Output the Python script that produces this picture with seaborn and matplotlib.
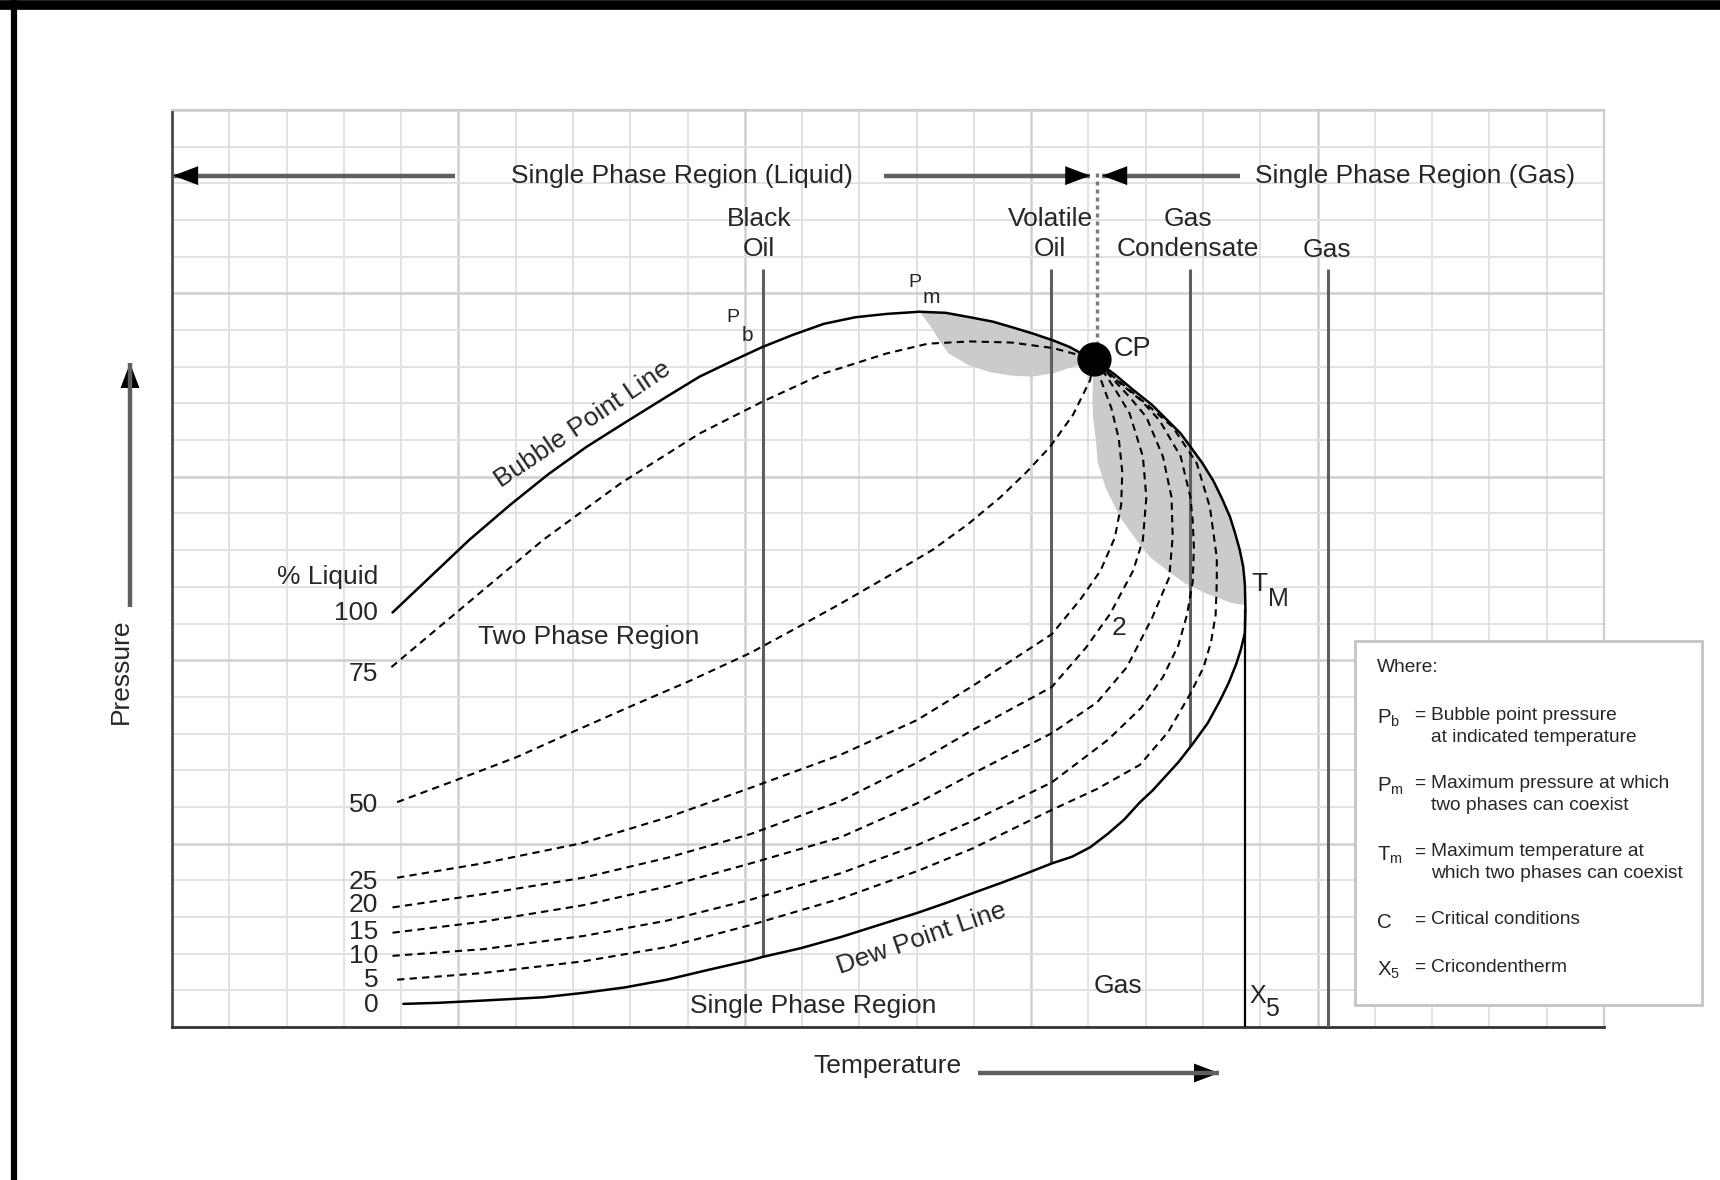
import numpy as np
import pandas as pd
import matplotlib
matplotlib.use('Agg')
import matplotlib.pyplot as plt
import seaborn as sns
from matplotlib.lines import Line2D
from matplotlib.patches import Rectangle

# ------------------ data (0-25 on both axes) ------------------ #
# phase envelope: bubble point line up to the critical point, then round to the dew point line
bubble_T = [3.85, 4.52, 5.19, 5.90, 6.57, 7.24, 7.91, 8.58, 9.21, 9.77, 10.31, 10.84, 11.38, 11.93,
            12.47, 13.05, 13.51, 13.93, 14.33, 14.66, 15.04, 15.38, 15.67, 15.88, 16.09]
bubble_P = [11.30, 12.29, 13.28, 14.23, 15.07, 15.82, 16.48, 17.13, 17.73, 18.15, 18.54, 18.87, 19.17, 19.35,
            19.44, 19.50, 19.47, 19.35, 19.23, 19.08, 18.90, 18.72, 18.54, 18.36, 18.21]
dew_T = [16.46, 16.78, 17.11, 17.38, 17.61, 17.78, 17.99, 18.18, 18.33, 18.47, 18.56, 18.64, 18.70, 18.73,
         18.74, 18.73, 18.66, 18.58, 18.45, 18.30, 18.08, 17.82, 17.57, 17.33, 17.12, 16.90, 16.62, 16.34,
         16.03, 15.71, 15.36, 14.92, 14.46, 13.98, 13.51, 13.01, 12.34, 11.67, 10.98, 10.31, 10.10, 9.37,
         8.64, 7.91, 7.18, 6.48, 5.42, 4.66, 4.04]
dew_P = [17.79, 17.37, 16.96, 16.54, 16.18, 15.82, 15.37, 14.89, 14.41, 13.91, 13.46, 13.01, 12.56, 12.08,
         11.39, 10.74, 10.29, 9.90, 9.39, 8.91, 8.28, 7.72, 7.22, 6.81, 6.45, 6.13, 5.65, 5.27,
         4.90, 4.64, 4.46, 4.19, 3.92, 3.65, 3.38, 3.11, 2.78, 2.45, 2.15, 1.91, 1.82, 1.56,
         1.29, 1.08, 0.93, 0.81, 0.72, 0.66, 0.63]

# % liquid lines
q75_T = [3.83, 5.15, 6.48, 7.84, 9.21, 10.31, 11.38, 12.47, 13.20, 13.93, 14.66, 15.38, 15.88, 16.09]
q75_P = [9.81, 11.54, 13.28, 14.83, 16.18, 17.05, 17.82, 18.36, 18.63, 18.69, 18.66, 18.51, 18.30, 18.21]
q50_T = [3.93, 4.96, 6.02, 6.99, 7.99, 9.06, 10.10, 10.88, 11.67, 12.47, 13.28, 13.89, 14.46, 14.92,
         15.33, 15.73, 16.03, 16.09]
q50_P = [6.13, 6.73, 7.36, 8.04, 8.73, 9.45, 10.20, 10.86, 11.54, 12.26, 13.01, 13.70, 14.44, 15.13,
         15.82, 16.69, 17.64, 18.21]
q25_T = [3.93, 5.42, 7.18, 8.64, 10.10, 11.67, 13.01, 13.98, 15.36, 15.86, 16.21, 16.46, 16.57, 16.59,
         16.53, 16.40, 16.21, 16.09]
q25_P = [4.07, 4.46, 5.02, 5.71, 6.52, 7.42, 8.37, 9.30, 10.71, 11.66, 12.44, 13.34, 14.23, 15.13,
         16.03, 16.87, 17.67, 18.21]
q20_T = [3.85, 5.42, 7.18, 8.64, 10.10, 11.67, 13.01, 13.98, 15.36, 15.96, 16.38, 16.78, 16.95, 17.01,
         16.95, 16.72, 16.53, 16.32, 16.09]
q20_P = [3.26, 3.62, 4.07, 4.61, 5.26, 6.16, 7.21, 8.10, 9.27, 10.35, 11.27, 12.44, 13.28, 14.44,
         15.55, 16.72, 17.22, 17.73, 18.21]
q15_T = [3.85, 5.42, 7.18, 8.64, 10.10, 11.67, 13.01, 13.98, 15.36, 16.15, 16.67, 17.11, 17.41, 17.47,
         17.45, 17.30, 17.01, 16.72, 16.44, 16.25, 16.09]
q15_P = [2.57, 2.87, 3.32, 3.83, 4.46, 5.17, 6.10, 6.91, 8.01, 8.85, 9.81, 11.15, 12.26, 13.37,
         14.44, 15.55, 16.63, 17.17, 17.64, 17.97, 18.21]
q10_T = [3.85, 5.42, 7.18, 8.64, 10.10, 11.67, 13.01, 13.98, 15.36, 16.34, 16.92, 17.30, 17.57, 17.72,
         17.82, 17.84, 17.82, 17.78, 17.61, 17.24, 16.92, 16.55, 16.30, 16.09]
q10_P = [1.94, 2.12, 2.48, 2.90, 3.47, 4.19, 4.96, 5.62, 6.67, 7.83, 8.70, 9.54, 10.41, 11.24,
         12.14, 13.07, 13.79, 14.44, 15.55, 16.54, 17.08, 17.55, 17.91, 18.21]
q5_T = [3.93, 5.42, 7.18, 8.64, 10.10, 11.67, 13.01, 13.98, 15.36, 16.15, 16.90, 17.39, 17.78, 18.01,
        18.14, 18.22, 18.24, 18.24, 18.12, 17.89, 17.47, 17.05, 16.67, 16.34, 16.09]
q5_P = [1.29, 1.47, 1.79, 2.18, 2.78, 3.50, 4.25, 4.87, 5.92, 6.49, 7.15, 8.04, 9.09, 9.81,
        10.50, 11.24, 12.14, 12.80, 14.17, 15.37, 16.36, 16.93, 17.43, 17.85, 18.21]

# grey shaded zones (near Pm and between CP and the cricondentherm)
lens_T = [13.05, 13.51, 13.93, 14.33, 14.66, 15.04, 15.38, 15.67, 15.88, 16.09,
          15.90, 15.73, 15.40, 15.02, 14.65, 14.29, 13.90, 13.56, 13.40, 13.28, 13.15]
lens_P = [19.50, 19.47, 19.35, 19.23, 19.08, 18.90, 18.72, 18.54, 18.36, 18.21,
          18.08, 18.00, 17.83, 17.73, 17.76, 17.85, 18.05, 18.36, 18.70, 19.02, 19.30]
retro_T = [16.09, 16.46, 16.78, 17.11, 17.38, 17.61, 17.78, 17.99, 18.18, 18.33, 18.47, 18.56, 18.64,
           18.70, 18.73, 18.74, 18.50, 18.07, 17.70, 17.38, 17.08, 16.85, 16.55, 16.30, 16.16, 16.13,
           16.08, 16.07, 16.08]
retro_P = [18.21, 17.79, 17.37, 16.96, 16.54, 16.18, 15.82, 15.37, 14.89, 14.41, 13.91, 13.46, 13.01,
           12.56, 12.08, 11.50, 11.56, 11.81, 12.08, 12.44, 12.80, 13.25, 13.90, 14.70, 15.40, 16.00,
           16.60, 17.10, 17.70]

cp_T, cp_P = 16.09, 18.21
tm_T, tm_P = 18.74, 11.39

reservoirs = ['Black\nOil', 'Volatile\nOil', 'Gas\nCondensate', 'Gas']
reservoir_T = [10.31, 15.35, 17.78, 20.19]
reservoir_end = [1.91, 4.46, 7.66, 0.0]

liquid_labels = ['100', '75', '50', '25', '20', '15', '10', '5', '0']
liquid_label_P = [11.30, 9.63, 6.04, 3.95, 3.32, 2.60, 1.94, 1.29, 0.60]

legend_syms = [r'P$_\mathregular{b}$', r'P$_\mathregular{m}$', r'T$_\mathregular{m}$', 'C', r'X$_\mathregular{5}$']
legend_text = ['Bubble point pressure\nat indicated temperature',
               'Maximum pressure at which\ntwo phases can coexist',
               'Maximum temperature at\nwhich two phases can coexist',
               'Critical conditions',
               'Cricondentherm']

# ------------------ style ------------------ #
sns.set_theme(style='white')
plt.rcParams['font.family'] = ['Liberation Sans', 'DejaVu Sans']
plt.rcParams['mathtext.fontset'] = 'custom'
plt.rcParams['mathtext.rm'] = 'Liberation Sans'
plt.rcParams['mathtext.it'] = 'Liberation Sans'

W, H = 1720, 1180
fig = plt.figure(figsize=(W / 100, H / 100), dpi=100)
ax = fig.add_axes([172 / W, 1 - 1027 / H, (1604 - 172) / W, (1027 - 110) / H])
ax.set_xlim(0, 25)
ax.set_ylim(0, 25)
ax.set_xticks(np.arange(0, 26, 5))
ax.set_yticks(np.arange(0, 26, 5))
ax.set_xticks(np.arange(0, 26, 1), minor=True)
ax.set_yticks(np.arange(0, 26, 1), minor=True)
ax.grid(which='minor', color='#e2e2e2', lw=1.4)
ax.grid(which='major', color='#d0d0d0', lw=1.8)
ax.tick_params(which='both', length=0, labelbottom=False, labelleft=False)
ax.set_axisbelow(True)
for side in ['top', 'right']:
    ax.spines[side].set_color('#cdcdcd')
    ax.spines[side].set_linewidth(1.6)
ax.spines['left'].set_color('#4a4a4a')
ax.spines['left'].set_linewidth(2)
ax.spines['bottom'].set_color('#333333')
ax.spines['bottom'].set_linewidth(2)

# shaded zones
ax.fill(lens_T, lens_P, color='#cbcbcb', lw=0, zorder=2)
ax.fill(retro_T, retro_P, color='#cbcbcb', lw=0, zorder=2)

# reservoir verticals
ax.vlines(reservoir_T, reservoir_end, 20.66, colors='#5e5e5e', lw=2.2, zorder=3)
ax.vlines(tm_T, 0, tm_P, colors='black', lw=1.6, zorder=3)
ax.plot([16.15, 16.15], [18.6, 23.35], color='#7a7a7a', lw=2.4, ls=(0, (1.2, 1.2)), zorder=3)

# % liquid lines
rows = []
for name, ts, ps in [('75', q75_T, q75_P), ('50', q50_T, q50_P), ('25', q25_T, q25_P),
                     ('20', q20_T, q20_P), ('15', q15_T, q15_P), ('10', q10_T, q10_P),
                     ('5', q5_T, q5_P)]:
    rows += [(name, t, p) for t, p in zip(ts, ps)]
qual = pd.DataFrame(rows, columns=['liquid', 'T', 'P'])
sns.lineplot(data=qual, x='T', y='P', units='liquid', estimator=None, sort=False,
             color='black', lw=1.5, linestyle=(0, (3.5, 2.5)), ax=ax, zorder=3)

# envelope
env = pd.DataFrame({'T': bubble_T + dew_T, 'P': bubble_P + dew_P})
sns.lineplot(data=env, x='T', y='P', estimator=None, sort=False, color='black', lw=1.8, ax=ax, zorder=4)
sns.scatterplot(x=[cp_T], y=[cp_P], s=520, color='black', edgecolor='black', ax=ax, zorder=5)
ax.set_xlabel('')
ax.set_ylabel('')

# ------------------ arrows ------------------ #
head_style = dict(arrowstyle='-|>,head_length=0.45,head_width=0.17', mutation_scale=40,
                  lw=0, fc='black', ec='none', shrinkA=0, shrinkB=0)


def arrow(tail, head, coords='data'):
    if coords == 'data':
        ax.plot([tail[0], head[0]], [tail[1], head[1]], color='#5f5f5f', lw=3.2, zorder=3,
                solid_capstyle='butt')
    else:
        fig.add_artist(Line2D([tail[0], head[0]], [tail[1], head[1]], transform=fig.transFigure,
                              color='#5f5f5f', lw=3.2, solid_capstyle='butt'))
    ax.annotate('', xy=head, xytext=tail, xycoords=coords, textcoords=coords,
                arrowprops=head_style, annotation_clip=False, zorder=4)


arrow((4.94, 23.21), (0.02, 23.21))
arrow((12.43, 23.21), (16.03, 23.21))
arrow((18.64, 23.21), (16.24, 23.21))
arrow((130 / W, 1 - 607 / H), (130 / W, 1 - 363 / H), 'figure fraction')
arrow((978 / W, 1 - 1073 / H), (1219 / W, 1 - 1073 / H), 'figure fraction')

# ------------------ labels ------------------ #
fs = 19
ax.text(8.9, 23.21, 'Single Phase Region (Liquid)', fontsize=fs, ha='center', va='center')
ax.text(21.71, 23.21, 'Single Phase Region (Gas)', fontsize=fs, ha='center', va='center')
for name, lx in zip(reservoirs, [10.25, 15.33, 17.74, 20.17]):
    if '\n' in name:
        ax.text(lx, 21.62, name, fontsize=fs, ha='center', va='center', linespacing=1.3)
    else:
        ax.text(lx, 21.17, name, fontsize=fs, ha='center', va='center')

ax.text(3.60, 12.26, '% Liquid', fontsize=fs, ha='right', va='center')
for lab, py in zip(liquid_labels, liquid_label_P):
    ax.text(3.60, py, lab, fontsize=fs, ha='right', va='center')

ax.text(7.17, 16.42, 'Bubble Point Line', fontsize=fs, rotation=34, rotation_mode='anchor',
        ha='center', va='center')
ax.text(13.08, 2.42, 'Dew Point Line', fontsize=fs, rotation=19, rotation_mode='anchor',
        ha='center', va='center')
ax.text(7.28, 10.62, 'Two Phase Region', fontsize=fs, ha='center', va='center')
ax.text(11.19, 0.58, 'Single Phase Region', fontsize=fs, ha='center', va='center')
ax.text(16.51, 1.11, 'Gas', fontsize=fs, ha='center', va='center')
ax.text(16.53, 10.88, '2', fontsize=fs, ha='center', va='center')
ax.text(16.44, 18.48, 'CP', fontsize=19.5, ha='left', va='center')

ax.text(9.79, 19.35, 'P', fontsize=14, ha='center', va='center')
ax.text(10.04, 18.84, 'b', fontsize=15, ha='center', va='center')
ax.text(12.97, 20.30, 'P', fontsize=14, ha='center', va='center')
ax.text(13.26, 19.89, 'm', fontsize=15, ha='center', va='center')
ax.text(18.98, 12.08, 'T', fontsize=19, ha='center', va='center')
ax.text(19.31, 11.66, 'M', fontsize=18, ha='center', va='center')
ax.text(18.95, 0.85, 'X', fontsize=18, ha='center', va='center')
ax.text(19.21, 0.50, '5', fontsize=18, ha='center', va='center')

fig.text(887 / W, 1 - 1066 / H, 'Temperature', fontsize=19, ha='center', va='center')
fig.text(121 / W, 1 - 671 / H, 'Pressure', fontsize=19, ha='center', va='center', rotation=90)

# ------------------ legend box ------------------ #
fig.add_artist(Rectangle((1355 / W, 1 - 1005 / H), (1702 - 1355) / W, (1005 - 641) / H,
                         transform=fig.transFigure, fc='white', ec='#c4c4c4', lw=2, zorder=5))
lfs = 13.8
fig.text(1377 / W, 1 - 668 / H, 'Where:', fontsize=lfs, ha='left', va='center', zorder=6)
for sym, desc, ry in zip(legend_syms, legend_text, [715, 783, 852, 920, 967]):
    fig.text(1377 / W, 1 - (ry + 3) / H, sym, fontsize=lfs + 1, ha='left', va='center', zorder=6)
    fig.text(1420 / W, 1 - ry / H, '=', fontsize=lfs, ha='center', va='center', zorder=6)
    for i, line in enumerate(desc.split('\n')):
        fig.text(1431 / W, 1 - (ry + 22 * i) / H, line, fontsize=lfs, ha='left', va='center', zorder=6)

# black frame on the top and left edge
fig.add_artist(Line2D([14 / W, 14 / W], [0, 1], transform=fig.transFigure, color='black', lw=4.5))
fig.add_artist(Line2D([0, 1], [1 - 5 / H, 1 - 5 / H], transform=fig.transFigure, color='black', lw=7))

fig.savefig('out.png', dpi=100, facecolor='white')
